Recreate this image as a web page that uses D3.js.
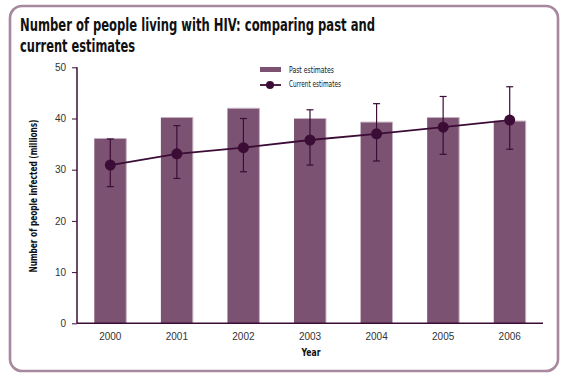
<!DOCTYPE html>
<html><head><meta charset="utf-8">
<script src="https://cdn.jsdelivr.net/npm/d3@7"></script>
<style>
html,body{margin:0;padding:0;background:#fff;}
svg{display:block;}
</style></head>
<body>
<svg id="chart" width="570" height="382"></svg>
<script>
const years = ["2000","2001","2002","2003","2004","2005","2006"];
const pastEstimates = [36.1, 40.2, 42.0, 40.0, 39.3, 40.2, 39.5];
const currentEstimates = [30.9, 33.1, 34.3, 35.8, 37.0, 38.3, 39.7];
const currentLow = [26.7, 28.3, 29.6, 30.9, 31.7, 33.0, 34.0];
const currentHigh = [36.0, 38.6, 40.0, 41.7, 42.9, 44.3, 46.2];
const yTicks = [0, 10, 20, 30, 40, 50];
const titleLines = ["Number of people living with HIV: comparing past and", "current estimates"];
const legendLabels = ["Past estimates", "Current estimates"];

const condensed = "'Liberation Sans Narrow','DejaVu Sans Condensed','Arial Narrow',sans-serif";
const regular = "'Liberation Sans',Arial,sans-serif";
const barColor = "#7c5273";
const lineColor = "#3b0c35";
const frameColor = "#a7889f";

const svg = d3.select("#chart");

// frame
svg.append("rect").attr("x", 10).attr("y", 6).attr("width", 548).attr("height", 365)
  .attr("rx", 12).attr("ry", 12).attr("fill", "none")
  .attr("stroke", frameColor).attr("stroke-width", 2.6);

// title
const titleWidths = [355, 115];
svg.append("g").selectAll("text").data(titleLines).join("text")
  .attr("x", 20).attr("y", (d, i) => 31 + i * 21)
  .attr("font-family", condensed).attr("font-weight", "bold")
  .attr("font-size", 17).attr("fill", "#111")
  .attr("textLength", (d, i) => titleWidths[i]).attr("lengthAdjust", "spacingAndGlyphs")
  .text(d => d);

const m = {left: 77, right: 543, top: 67.3, bottom: 323.3};
const x = d3.scaleBand().domain(years).range([m.left, m.right]).paddingInner(0.52).paddingOuter(0.26);
const y = d3.scaleLinear().domain([0, 50]).range([m.bottom, m.top]);

// bars
svg.append("g").selectAll("rect").data(years).join("rect")
  .attr("x", d => x(d)).attr("width", x.bandwidth())
  .attr("y", (d, i) => y(pastEstimates[i]))
  .attr("height", (d, i) => y(0) - y(pastEstimates[i]))
  .attr("fill", barColor);
// light edge on bars
svg.append("g").selectAll("line").data(years).join("line")
  .attr("x1", d => x(d) + x.bandwidth()).attr("x2", d => x(d) + x.bandwidth())
  .attr("y1", (d, i) => y(pastEstimates[i])).attr("y2", y(0))
  .attr("stroke", "#c6b2c1").attr("stroke-width", 1);
svg.append("g").selectAll("line").data(years).join("line")
  .attr("x1", d => x(d)).attr("x2", d => x(d) + x.bandwidth())
  .attr("y1", (d, i) => y(pastEstimates[i])).attr("y2", (d, i) => y(pastEstimates[i]))
  .attr("stroke", "#c6b2c1").attr("stroke-width", 1);

// y axis
const yAxis = d3.axisLeft(y).tickValues(yTicks).tickSize(5).tickPadding(6);
const gy = svg.append("g").attr("transform", `translate(${m.left},0)`).call(yAxis);
gy.select(".domain").attr("stroke", lineColor).attr("stroke-width", 1.5).attr("d", `M0,${m.top}V${m.bottom}`);
gy.selectAll(".tick line").attr("stroke", lineColor);
gy.selectAll(".tick text").attr("font-family", regular).attr("font-size", 10).attr("fill", "#333");

// x axis
const xAxis = d3.axisBottom(x).tickSize(0).tickPadding(10);
const gx = svg.append("g").attr("transform", `translate(0,${m.bottom})`).call(xAxis);
gx.select(".domain").attr("stroke", lineColor).attr("stroke-width", 1.5).attr("d", `M${m.left},0H${m.right}`);
gx.selectAll(".tick text").attr("font-family", regular).attr("font-size", 10).attr("fill", "#333");

// axis titles
svg.append("text").attr("x", 311).attr("y", 356).attr("text-anchor", "middle")
  .attr("font-family", condensed).attr("font-weight", "bold").attr("font-size", 11).attr("fill", "#111")
  .attr("textLength", 19).attr("lengthAdjust", "spacingAndGlyphs")
  .text("Year");
svg.append("text").attr("transform", "translate(37,196) rotate(-90)").attr("text-anchor", "middle")
  .attr("font-family", condensed).attr("font-weight", "bold").attr("font-size", 10.5).attr("fill", "#111")
  .attr("textLength", 153).attr("lengthAdjust", "spacingAndGlyphs")
  .text("Number of people infected (millions)");

// error bars
const cx = d => x(d) + x.bandwidth() / 2;
const eg = svg.append("g").attr("stroke", lineColor).attr("stroke-width", 1.2);
eg.selectAll("line.v").data(years).join("line").attr("class", "v")
  .attr("x1", cx).attr("x2", cx)
  .attr("y1", (d, i) => y(currentLow[i])).attr("y2", (d, i) => y(currentHigh[i]));
eg.selectAll("line.t").data(years).join("line").attr("class", "t")
  .attr("x1", d => cx(d) - 3.5).attr("x2", d => cx(d) + 3.5)
  .attr("y1", (d, i) => y(currentHigh[i])).attr("y2", (d, i) => y(currentHigh[i]));
eg.selectAll("line.b").data(years).join("line").attr("class", "b")
  .attr("x1", d => cx(d) - 3.5).attr("x2", d => cx(d) + 3.5)
  .attr("y1", (d, i) => y(currentLow[i])).attr("y2", (d, i) => y(currentLow[i]));

// line
const line = d3.line().x((d, i) => cx(years[i])).y(d => y(d));
svg.append("path").datum(currentEstimates).attr("d", line)
  .attr("fill", "none").attr("stroke", lineColor).attr("stroke-width", 1.8);
svg.append("g").selectAll("circle").data(currentEstimates).join("circle")
  .attr("cx", (d, i) => cx(years[i])).attr("cy", d => y(d)).attr("r", 5.5)
  .attr("fill", lineColor);

// legend
const legendWidths = [45, 52];
const lg = svg.append("g");
lg.append("rect").attr("x", 260).attr("y", 67).attr("width", 21).attr("height", 5).attr("fill", barColor);
lg.append("line").attr("x1", 260).attr("x2", 281).attr("y1", 85).attr("y2", 85)
  .attr("stroke", lineColor).attr("stroke-width", 1.8);
lg.append("circle").attr("cx", 270).attr("cy", 85).attr("r", 4).attr("fill", lineColor);
lg.selectAll("text").data(legendLabels).join("text")
  .attr("x", 289).attr("y", (d, i) => 73 + i * 14)
  .attr("font-family", condensed).attr("font-size", 8.5).attr("fill", "#111")
  .attr("textLength", (d, i) => legendWidths[i]).attr("lengthAdjust", "spacingAndGlyphs")
  .text(d => d);
</script>
</body></html>
